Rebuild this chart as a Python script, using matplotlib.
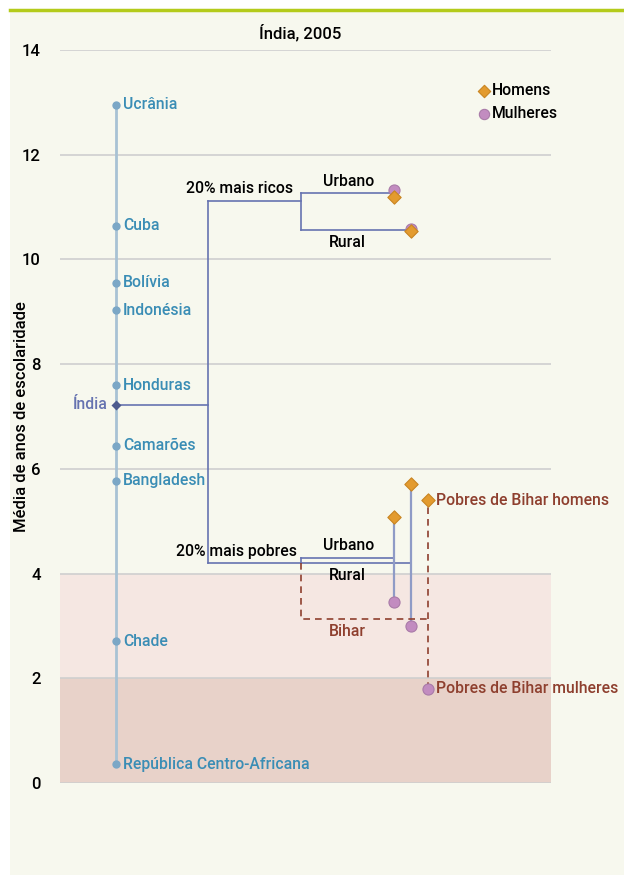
import matplotlib
matplotlib.use("Agg")
import matplotlib.pyplot as plt
from matplotlib.lines import Line2D

plt.rcParams['font.family'] = ['Roboto', 'DejaVu Sans']

# ---------------- data ----------------
countries = ["Ucrânia", "Cuba", "Bolívia", "Indonésia", "Honduras",
             "Camarões", "Bangladesh", "Chade", "República Centro-Africana"]
country_vals = [12.95, 10.64, 9.55, 9.03, 7.60, 6.44, 5.77, 2.71, 0.36]
india_val = 7.22

rich_val = 11.12
rich_urban_val = 11.27
rich_rural_val = 10.57
rich_urban_men, rich_urban_women = 11.19, 11.33
rich_rural_men, rich_rural_women = 10.54, 10.58

poor_val = 4.20
poor_urban_val = 4.30
poor_rural_val = 4.20
poor_urban_men, poor_urban_women = 5.09, 3.45
poor_rural_men, poor_rural_women = 5.72, 3.00

bihar_val = 3.13
bihar_men, bihar_women = 5.40, 1.80

yticks = [0, 2, 4, 6, 8, 10, 12, 14]

# ---------------- layout / style ----------------
W, H = 624, 875
fig = plt.figure(figsize=(W / 100, H / 100), dpi=100)
fig.patch.set_facecolor('white')

# cream panel and green top rule
fig.patches.append(plt.Rectangle((10 / W, 0), 1 - 10 / W, 1 - 10 / H,
                                 transform=fig.transFigure, facecolor='#F7F8EE',
                                 edgecolor='none', zorder=-10))
fig.lines.append(Line2D([10 / W, 1], [1 - 10 / H, 1 - 10 / H], transform=fig.transFigure,
                        color='#B4CB1A', lw=2.5))

left, right, top, bottom = 60, 551, 50, 783
ax = fig.add_axes([left / W, (H - bottom) / H, (right - left) / W, (bottom - top) / H])
ax.set_facecolor('none')
ax.set_xlim(left, right)
ax.set_ylim(0, 14)
for s in ax.spines.values():
    s.set_visible(False)
ax.set_xticks([])
ax.set_yticks(yticks)
ax.set_yticklabels([str(t) for t in yticks], fontsize=12, fontweight='medium')
ax.tick_params(axis='y', length=0, pad=14)
ax.set_ylabel("Média de anos de escolaridade", fontsize=12, fontweight='medium')
ax.yaxis.set_label_coords((29 - left) / (right - left), 0.5)

# bands and grid
ax.axhspan(2, 4, color='#F5E7E2', zorder=0, lw=0)
ax.axhspan(0, 2, color='#E8D2C9', zorder=0, lw=0)
for t in yticks:
    ax.axhline(t, color='#CFCFCF', lw=1.2, zorder=1)

# x layout positions
x_cty, x_node, x_split, x_urb, x_rur, x_bih = 116, 208, 301, 394, 411, 428

fs = 11.3
# country column
ax.plot([x_cty, x_cty], [min(country_vals), max(country_vals)], color='#A8C2D4', lw=2, zorder=2)
ax.scatter([x_cty] * len(country_vals), country_vals, s=36, color='#7BA7C6', zorder=3, lw=0)
for name, v in zip(countries, country_vals):
    ax.text(x_cty + 7, v, name, fontsize=fs, color='#3A8DB5', va='center', ha='left',
            fontweight='medium', zorder=4)

# India
tree = '#6673B0'
ax.plot([x_cty, x_node], [india_val, india_val], color=tree, lw=1.2, zorder=3)
ax.scatter([x_cty], [india_val], marker='D', s=26, color='#4E5B8E', zorder=4, lw=0)
ax.text(x_cty - 8, india_val, "Índia", fontsize=fs, color='#6673B0', va='center', ha='right',
        fontweight='medium')

# tree
ax.plot([x_node, x_node], [poor_val, rich_val], color=tree, lw=1.2, zorder=3)
ax.plot([x_node, x_split], [rich_val, rich_val], color=tree, lw=1.2, zorder=3)
ax.plot([x_split, x_split], [rich_rural_val, rich_urban_val], color=tree, lw=1.2, zorder=3)
ax.plot([x_split, x_urb], [rich_urban_val, rich_urban_val], color=tree, lw=1.2, zorder=3)
ax.plot([x_split, x_rur], [rich_rural_val, rich_rural_val], color=tree, lw=1.2, zorder=3)

ax.plot([x_node, x_rur], [poor_rural_val, poor_rural_val], color=tree, lw=1.2, zorder=3)
ax.plot([x_split, x_split], [poor_rural_val, poor_urban_val], color=tree, lw=1.2, zorder=3)
ax.plot([x_split, x_urb], [poor_urban_val, poor_urban_val], color=tree, lw=1.2, zorder=3)

stem = '#8F9BC6'
ax.plot([x_urb, x_urb], [poor_urban_women, poor_urban_men], color=stem, lw=1.6, zorder=3)
ax.plot([x_rur, x_rur], [poor_rural_women, poor_rural_men], color=stem, lw=1.6, zorder=3)

# Bihar dashed
bcol = '#8E3F2E'
ax.plot([x_split, x_split, x_bih], [poor_rural_val, bihar_val, bihar_val], color=bcol,
        lw=1.2, ls=(0, (4, 3)), zorder=3)
ax.plot([x_bih, x_bih], [bihar_women, bihar_men], color=bcol, lw=1.2, ls=(0, (4, 3)), zorder=3)

# markers
men_c, men_e = '#E39B2F', '#C98521'
wom_c, wom_e = '#C28CC0', '#A97BA8'
men_x = [x_urb, x_rur, x_urb, x_rur, x_bih]
men_y = [rich_urban_men, rich_rural_men, poor_urban_men, poor_rural_men, bihar_men]
wom_x = [x_urb, x_rur, x_urb, x_rur, x_bih]
wom_y = [rich_urban_women, rich_rural_women, poor_urban_women, poor_rural_women, bihar_women]
ax.scatter(wom_x, wom_y, marker='o', s=64, color=wom_c, edgecolor=wom_e, lw=0.8, zorder=5)
ax.scatter(men_x, men_y, marker='D', s=46, color=men_c, edgecolor=men_e, lw=0.8, zorder=6)

# labels
kw = dict(fontsize=fs, va='center', color='black', fontweight='medium')
ax.text(x_split - 8, 11.36, "20% mais ricos", ha='right', **kw)
ax.text(349, 11.48, "Urbano", ha='center', **kw)
ax.text(347, 10.33, "Rural", ha='center', **kw)
ax.text(x_split - 4, 4.43, "20% mais pobres", ha='right', **kw)
ax.text(349, 4.53, "Urbano", ha='center', **kw)
ax.text(347, 3.97, "Rural", ha='center', **kw)
ax.text(347, 2.90, "Bihar", fontsize=fs, ha='center', va='center', color=bcol, fontweight='medium')
ax.text(x_bih + 8, bihar_men, "Pobres de Bihar homens", fontsize=fs, ha='left', va='center',
        color=bcol, clip_on=False, fontweight='medium')
ax.text(x_bih + 8, bihar_women, "Pobres de Bihar mulheres", fontsize=fs, ha='left', va='center',
        color=bcol, clip_on=False, fontweight='medium')

# title
ax.text(300, 14.34, "Índia, 2005", fontsize=12, ha='center', va='center', clip_on=False,
        fontweight='medium')

# legend
ax.scatter([484], [13.22], marker='D', s=40, color=men_c, edgecolor=men_e, lw=0.8, zorder=6)
ax.scatter([484], [12.78], marker='o', s=55, color=wom_c, edgecolor=wom_e, lw=0.8, zorder=6)
ax.text(492, 13.22, "Homens", ha='left', **kw)
ax.text(492, 12.78, "Mulheres", ha='left', **kw)

fig.savefig("out.png", dpi=100)
